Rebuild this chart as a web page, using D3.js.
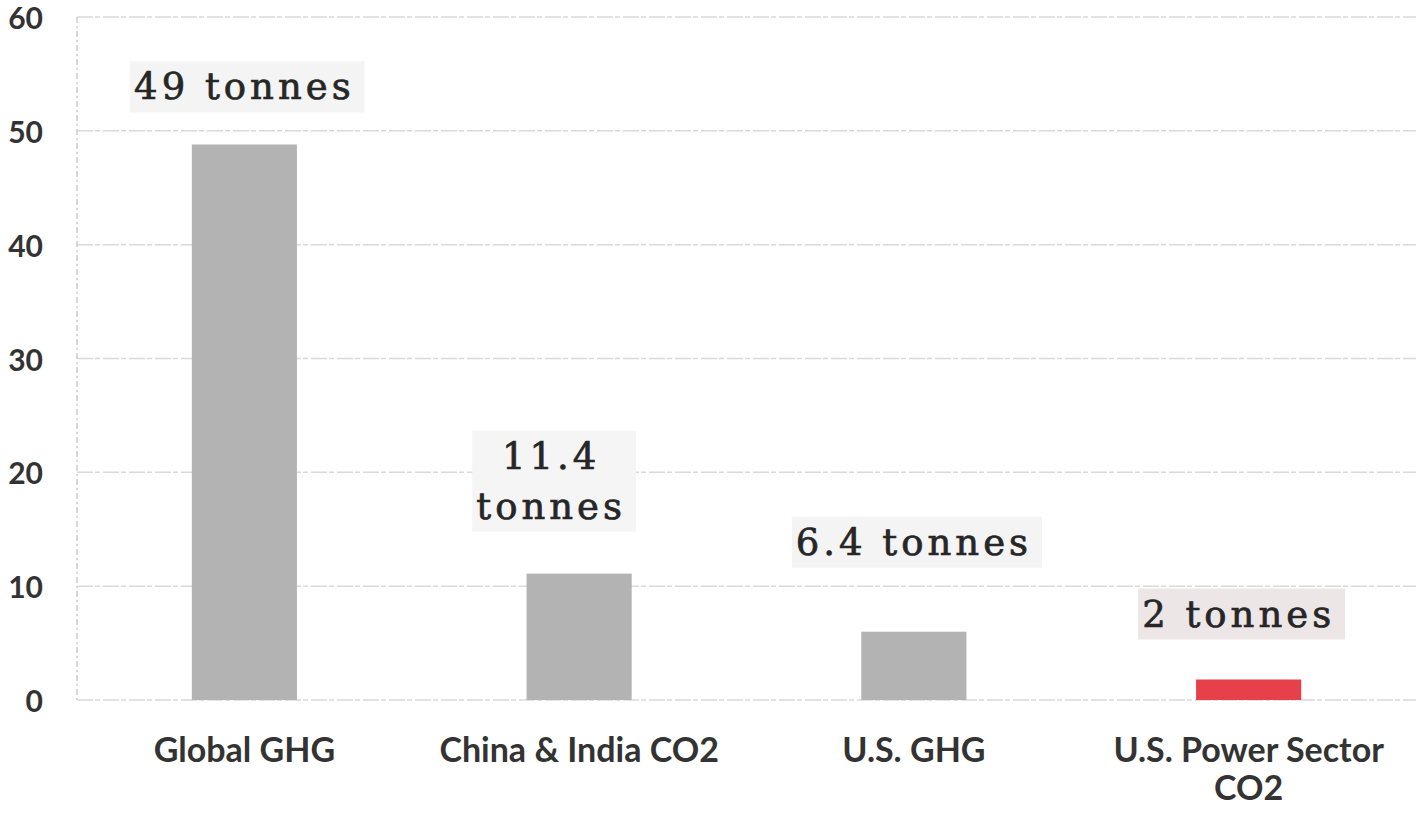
<!doctype html>
<html>
  <head>
    <script src="https://cdnjs.cloudflare.com/ajax/libs/d3/7.8.5/d3.min.js"></script>
    <style>
      body { margin: 0; background: #fff; }
    </style>
  </head>
  <body>
    <svg style="height: 817px; width: 1416px;"></svg>
    <script>
        var categories = ["Global GHG", "China & India CO2", "U.S. GHG", "U.S. Power Sector CO2"];
        var values = [48.8, 11.1, 6.0, 1.8];
        var valueLabels = [["49 tonnes"], ["11.4", "tonnes"], ["6.4 tonnes"], ["2 tonnes"]];
        var yTicks = [0, 10, 20, 30, 40, 50, 60];

        // label nudges, not data
        var labelShift = [[0, 45], [-28, 55], [0, 77], [-10, 53]];
        var labelBg = ["#f4f4f4", "#f5f5f5", "#f4f4f4", "#ece6e6"];
        var barColours = ["#b3b3b3", "#b3b3b3", "#b3b3b3", "#e8404b"];

        var svg = d3.select("svg");
        var plotLeft = 77, plotRight = 1416, plotTop = 17, plotBottom = 700;

        var x = d3.scaleBand()
            .domain(categories)
            .range([plotLeft, plotRight])
            .paddingInner(0.686)
            .paddingOuter(0.343);

        var y = d3.scaleLinear()
            .domain([0, 60])
            .range([plotBottom, plotTop]);

        // gridlines
        svg.append("g")
            .selectAll("line")
            .data(yTicks)
            .enter()
            .append("line")
                .attr("x1", plotLeft)
                .attr("x2", plotRight)
                .attr("y1", d => y(d))
                .attr("y2", d => y(d))
                .style("stroke", "#d9d9d9")
                .style("stroke-width", 1.5)
                .style("stroke-dasharray", "16 2 5 3");

        svg.append("line")
            .attr("x1", plotLeft).attr("x2", plotLeft)
            .attr("y1", plotTop).attr("y2", plotBottom)
            .style("stroke", "#cccccc")
            .style("stroke-width", 1.5)
            .style("stroke-dasharray", "6 3 2 3");

        // y tick labels
        svg.append("g")
            .selectAll("text")
            .data(yTicks)
            .enter()
            .append("text")
                .attr("x", 43)
                .attr("y", d => y(d) + 12)
                .attr("text-anchor", "end")
                .style("font-family", "Lato, sans-serif")
                .style("font-weight", "bold")
                .style("font-size", "30px")
                .style("fill", "#333")
                .text(d => d);

        // bars
        svg.append("g")
            .selectAll("rect")
            .data(values)
            .enter()
            .append("rect")
                .attr("x", (d, i) => x(categories[i]))
                .attr("width", x.bandwidth())
                .attr("y", d => y(d))
                .attr("height", d => y(0) - y(d))
                .style("fill", (d, i) => barColours[i]);

        // value labels
        var lab = svg.append("g")
            .selectAll("g")
            .data(valueLabels)
            .enter()
            .append("g");

        lab.each(function(lines, i) {
            var g = d3.select(this);
            var cx = x(categories[i]) + x.bandwidth() / 2 + labelShift[i][0];
            var baseY = y(values[i]) - labelShift[i][1];
            var bg = g.append("rect").style("fill", labelBg[i]);
            var t = g.append("text")
                .attr("text-anchor", "middle")
                .style("font-family", "'DejaVu Serif', serif")
                .style("font-size", "37px")
                .style("letter-spacing", "4px")
                .style("fill", "#262626")
                .style("stroke", "#262626")
                .style("stroke-width", 0.7);
            lines.forEach(function(s, k) {
                t.append("tspan")
                    .attr("x", cx)
                    .attr("y", baseY - (lines.length - 1 - k) * 50)
                    .text(s);
            });
            var b = t.node().getBBox();
            bg.attr("x", b.x - 4)
                .attr("y", b.y - 4)
                .attr("width", b.width + 14)
                .attr("height", b.height + 8);
        });

        // category labels
        var cat = svg.append("g")
            .selectAll("text")
            .data(categories)
            .enter()
            .append("text")
                .attr("text-anchor", "middle")
                .style("font-family", "Lato, sans-serif")
                .style("font-weight", "bold")
                .style("font-size", "34px")
                .style("fill", "#333");

        cat.each(function(d) {
            var t = d3.select(this);
            var cx = x(d) + x.bandwidth() / 2;
            var lines = d === "U.S. Power Sector CO2" ? ["U.S. Power Sector", "CO2"] : [d];
            lines.forEach(function(s, k) {
                t.append("tspan")
                    .attr("x", cx)
                    .attr("y", 762 + k * 38)
                    .text(s);
            });
        });
    </script>
  </body>
</html>
